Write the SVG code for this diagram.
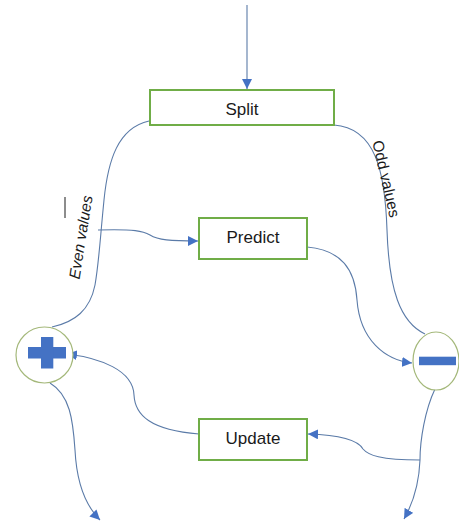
<svg xmlns="http://www.w3.org/2000/svg" width="459" height="525" viewBox="0 0 459 525">
<style>
.box{fill:#fff;stroke:#70AD47;stroke-width:2}
.lbl{font-family:"Liberation Sans",Arial,sans-serif;font-size:17px;fill:#1a1a1a;text-anchor:middle}
.edge{fill:none;stroke:#5B7BA8;stroke-width:1.1}
.circ{fill:#fff;stroke:#A4B87A;stroke-width:1.2}
.sym{fill:#4472C4}
.elbl{font-family:"Liberation Sans",Arial,sans-serif;font-size:15.5px;fill:#1a1a1a;text-anchor:middle}
</style>
<defs>
<marker id="ah" viewBox="0 0 10 10" refX="10" refY="5" markerWidth="10" markerHeight="10" markerUnits="userSpaceOnUse" orient="auto">
<path d="M0,0 L10,5 L0,10 z" fill="#4472C4"/>
</marker>
</defs>
<rect width="459" height="525" fill="#fff"/>
<g id="connectors">
<path class="edge" d="M247,5 L247,89" marker-end="url(#ah)"/>
<path class="edge" d="M149,121 C118,128 108,160 104,200 C100,240 99,262 95,285 C90,310 75,322 52,327"/>
<path class="edge" d="M98,230 C135,229 143,231 150,235 C158,240 170,241 198,241" marker-end="url(#ah)"/>
<path class="edge" d="M334,125 C375,128 385,170 387,230 C389,290 400,322 425,334"/>
<path class="edge" d="M307,247 C342,250 355,270 357,300 C360,340 385,360 412,363" marker-end="url(#ah)"/>
<path class="edge" d="M199,434 C150,430 135,415 134,395 C133,370 100,358 67,354" marker-end="url(#ah)"/>
<path class="edge" d="M435,389 C425,410 420,440 420,460"/>
<path class="edge" d="M420,460 C380,460 368,455 363,449 C358,440 340,435 308,434" marker-end="url(#ah)"/>
<path class="edge" d="M420,460 C419,485 412,505 404,519" marker-end="url(#ah)"/>
<path class="edge" d="M50,383 C70,395 73,420 75,450 C77,490 90,510 100,520" marker-end="url(#ah)"/>
<line x1="65" y1="197" x2="65" y2="218" stroke="#1a1a1a" stroke-width="1"/>
<text class="elbl" font-style="italic" transform="translate(86,238) rotate(-81)">Even values</text>
<text class="elbl" font-size="16" transform="translate(381,180) rotate(77)">Odd values</text>
</g>
<g id="split">
<rect class="box" x="150" y="90" width="184" height="35"/>
<text class="lbl" x="242" y="115">Split</text>
</g>
<g id="predict">
<rect class="box" x="199" y="218" width="108" height="41"/>
<text class="lbl" x="253" y="243">Predict</text>
</g>
<g id="update">
<rect class="box" x="199" y="419" width="108" height="41"/>
<text class="lbl" x="253" y="444">Update</text>
</g>
<g id="plus">
<ellipse class="circ" cx="44.5" cy="355" rx="28.5" ry="28"/>
<rect class="sym" x="28" y="347" width="38" height="11.5"/>
<rect class="sym" x="41" y="337" width="12.3" height="31.5"/>
</g>
<g id="minus">
<ellipse class="circ" cx="436" cy="361" rx="23" ry="29"/>
<rect class="sym" x="419" y="356.7" width="37" height="8.5"/>
</g>
</svg>
